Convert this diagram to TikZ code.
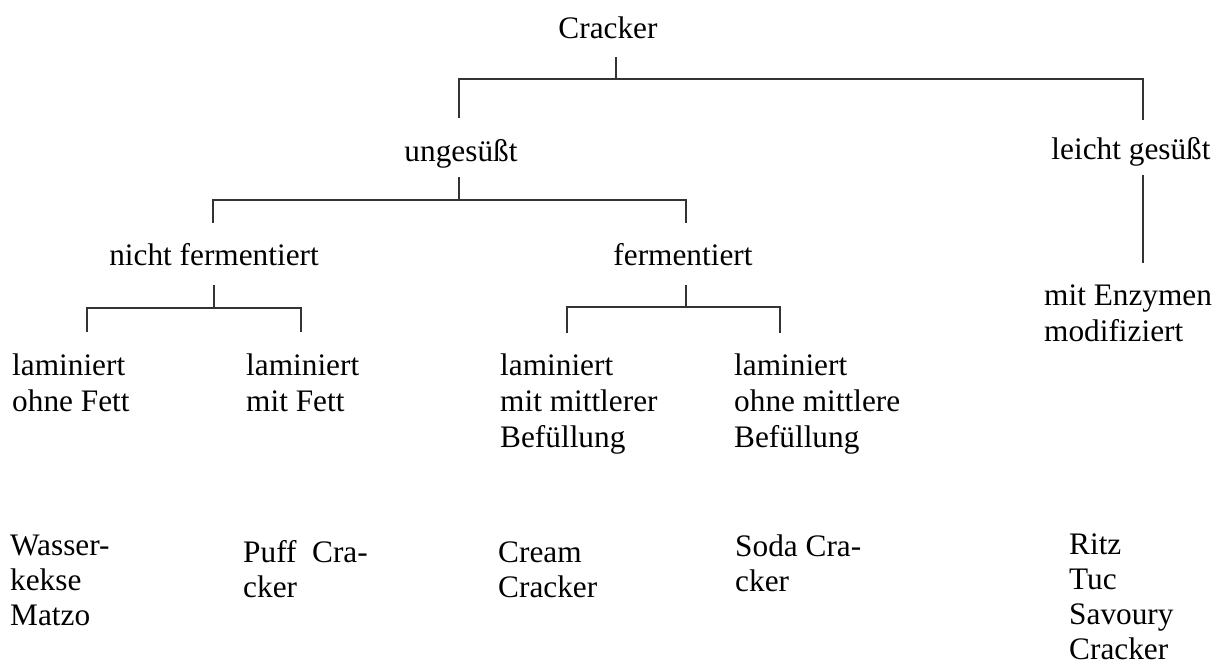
\documentclass[tikz,border=0pt]{standalone}
\usepackage{fontspec}
\setmainfont{Liberation Serif}
\usepackage{xcolor}

\begin{document}
\begin{tikzpicture}[x=1pt,y=1pt,
lbl/.style={inner sep=0pt,font=\fontsize{31.3}{36}\selectfont,align=left,anchor=base west},
top/.style={lbl,align=center,anchor=base},
ex/.style={lbl,font=\fontsize{31.3}{35}\selectfont},
tree/.style={line width=1.2pt,draw=black!80}]
\useasboundingbox (0,0) rectangle (1225,-666);
% classes (multi-line nodes sit on their last baseline)
\node[top] (cr) at (608,-39) {Cracker};
\node[top] (un) at (461,-161) {ungesüßt};
\node[top] (lg) at (1131,-159) {leicht gesüßt};
\node[top] (nf) at (214,-265) {nicht fermentiert};
\node[top] (fe) at (683,-265) {fermentiert};
\node[lbl] (me) at (1044,-341) {mit Enzymen\\modifiziert};
\node[lbl] (lo) at (12,-411) {laminiert\\ohne Fett};
\node[lbl] (lm) at (246,-411) {laminiert\\mit Fett};
\node[lbl] (lmm) at (500,-447) {laminiert\\mit mittlerer\\Befüllung};
\node[lbl] (lom) at (734,-447) {laminiert\\ohne mittlere\\Befüllung};
% examples
\node[ex] (wk) at (10,-625) {Wasser-\\kekse\\Matzo};
\node[ex] (pc) at (243,-597) {Puff\ \ Cra-\\cker};
\node[ex] (cc) at (498,-597) {Cream\\Cracker};
\node[ex] (sc) at (735,-591) {Soda Cra-\\cker};
\node[ex] (rt) at (1069,-659) {Ritz\\Tuc\\Savoury\\Cracker};
% branches
\draw[tree] ([xshift=8pt,yshift=-18pt]cr.base) -- ++(0,-22) coordinate (cr-j);
\draw[tree] ([xshift=-2pt,yshift=43pt]un.base) |- (cr-j) -| ([xshift=12pt,yshift=39pt]lg.base);
\draw[tree] ([xshift=-2pt,yshift=-16pt]un.base) -- ++(0,-23) coordinate (un-j);
\draw[tree] ([xshift=-1pt,yshift=42pt]nf.base) |- (un-j) -| ([xshift=3pt,yshift=42pt]fe.base);
\draw[tree] ([xshift=12pt,yshift=-16pt]lg.base) -- ([xshift=99pt,yshift=78pt]me.base west);
\draw[tree] ([yshift=-20pt]nf.base) -- ++(0,-23) coordinate (nf-j);
\draw[tree] ([xshift=75pt,yshift=79pt]lo.base west) |- (nf-j) -| ([xshift=55pt,yshift=79pt]lm.base west);
\draw[tree] ([xshift=3pt,yshift=-20pt]fe.base) -- ++(0,-22) coordinate (fe-j);
\draw[tree] ([xshift=67pt,yshift=114pt]lmm.base west) |- (fe-j) -| ([xshift=46pt,yshift=114pt]lom.base west);
\end{tikzpicture}
\end{document}
